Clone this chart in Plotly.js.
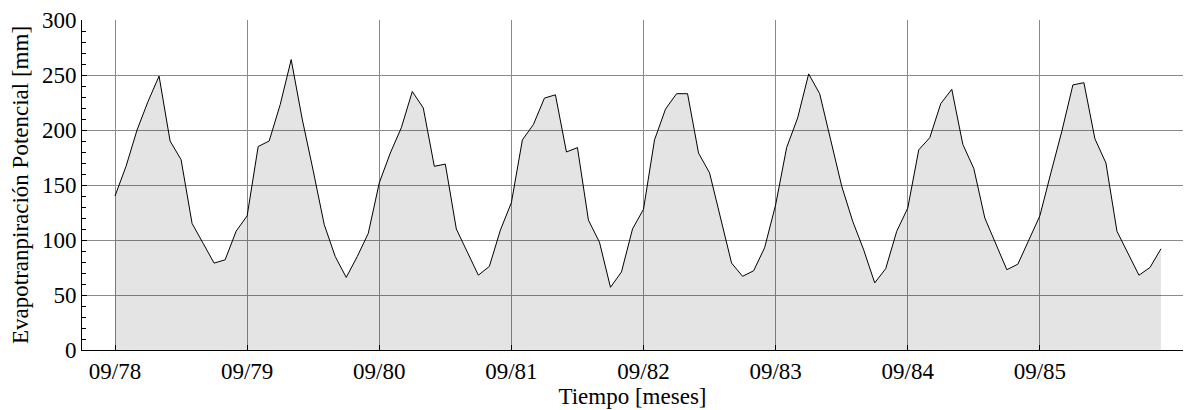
<!DOCTYPE html>
<html>
<head>
<meta charset="utf-8">
<script src="https://cdn.plot.ly/plotly-3.0.1.min.js"></script>
<style>html,body{margin:0;padding:0;background:#fff;}#chart{width:1191px;height:410px;}</style>
</head>
<body>
<div id="chart"></div>
<script>
// Month index (1 = 09/78)
const months = Array.from({length: 96}, (_, i) => i + 1);
const etp = [
  140, 167, 200, 226, 249, 190, 173, 115, 97, 79, 82, 108,
  122, 185, 190, 223, 264, 210, 163, 114, 85, 66, 85, 106,
  152, 179, 202, 235, 220, 167, 169, 110, 89, 68, 76, 109,
  134, 191, 205, 229, 232, 180, 184, 118, 98, 57, 71, 110,
  128, 191, 219, 233, 233, 179, 161, 121, 79, 67, 72, 93,
  132, 184, 211, 251, 233, 191, 149, 117, 91, 61, 74, 108,
  129, 182, 193, 224, 237, 187, 165, 120, 97, 73, 78, 100,
  122, 161, 199, 241, 243, 192, 170, 108, 88, 68, 75, 92
];
const tickMonths = [1, 13, 25, 37, 49, 61, 73, 85];
const tickLabels = ["09/78", "09/79", "09/80", "09/81", "09/82", "09/83", "09/84", "09/85"];
const topTicks = Array.from({length: 20}, (_, i) => i * 5);

const font = {family: "Liberation Serif", size: 23, color: "#000"};
const grid = "#8a8a8a";

const data = [{
  x: months, y: etp, type: "scatter", mode: "lines",
  fill: "tozeroy", fillcolor: "rgba(0,0,0,0.105)",
  line: {color: "#000", width: 1}, hoverinfo: "skip", showlegend: false
}];

const layout = {
  width: 1191, height: 410,
  margin: {l: 82, r: 8, t: 20, b: 60},
  paper_bgcolor: "#fff", plot_bgcolor: "#fff",
  font: font, showlegend: false,
  xaxis: {
    range: [-2, 98], tickmode: "array", tickvals: tickMonths, ticktext: tickLabels,
    ticks: "inside", ticklen: 5, tickcolor: "#000", tickfont: font,
    showgrid: true, gridcolor: grid, gridwidth: 1, zeroline: false,
    showline: true, linecolor: "#000", linewidth: 1, mirror: false,
    title: {text: "Tiempo [meses]", font: font, standoff: 0}
  },
  xaxis2: {
    overlaying: "x", side: "top", matches: "x", range: [-2, 98],
    tickmode: "array", tickvals: topTicks, ticks: "inside", ticklen: 5, tickcolor: "#000",
    showticklabels: false, showgrid: false, zeroline: false,
    showline: true, linecolor: "#333", linewidth: 1.5
  },
  yaxis: {
    range: [0, 300], dtick: 50, tick0: 0,
    ticks: "inside", ticklen: 5, tickcolor: "#000", tickfont: font,
    minor: {dtick: 10, ticks: "inside", ticklen: 4, tickcolor: "#000", showgrid: false},
    showgrid: true, gridcolor: grid, gridwidth: 1, zeroline: false,
    showline: true, linecolor: "#000", linewidth: 1, mirror: false,
    title: {text: "Evapotranpiración Potencial [mm]", font: font, standoff: 6}
  },
  yaxis2: {
    overlaying: "y", side: "right", range: [0, 300], dtick: 10, tick0: 0,
    ticks: "inside", ticklen: 5, tickcolor: "#000",
    showticklabels: false, showgrid: false, zeroline: false,
    showline: true, linecolor: "#333", linewidth: 1.5
  }
};

Plotly.newPlot("chart", data, layout, {staticPlot: true, displayModeBar: false});
</script>
</body>
</html>
